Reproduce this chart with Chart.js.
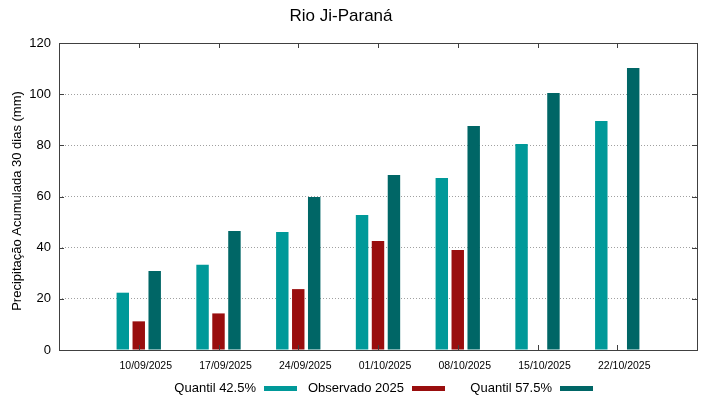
<!DOCTYPE html>
<html>
<head>
<meta charset="utf-8">
<script src="https://cdn.jsdelivr.net/npm/chart.js@4.4.1/dist/chart.umd.min.js"></script>
<style>
  html, body { margin: 0; padding: 0; background: #fff; }
  #wrap { width: 719px; height: 399px; }
</style>
</head>
<body>
<div id="wrap"><canvas id="rioChart" width="719" height="399"></canvas></div>
<script>
  // Dados
  const chartTitle = 'Rio Ji-Paraná';
  const yTitle = 'Precipitação Acumulada 30 dias (mm)';
  const dates = ['10/09/2025', '17/09/2025', '24/09/2025', '01/10/2025', '08/10/2025', '15/10/2025', '22/10/2025'];
  const quantil425 = [22.4, 33.3, 46.1, 52.8, 67.2, 80.5, 89.5];
  const observado2025 = [11.2, 14.3, 23.8, 42.6, 39.1, null, null];
  const quantil575 = [30.9, 46.5, 59.8, 68.4, 87.6, 100.5, 110.2];
  const yTicks = [0, 20, 40, 60, 80, 100, 120];

  const FONT = '"Liberation Sans", Arial, sans-serif';
  const BORDER = '#404040';

  // pad one empty slot on each side (gnuplot style xrange)
  const pad = arr => [null, ...arr, null];
  const labels = ['', ...dates, ''];

  // frame, inward ticks, titles and legend drawn gnuplot-style
  const gnuplotFrame = {
    id: 'gnuplotFrame',
    afterDraw(chart) {
      const { ctx, chartArea: a, scales } = chart;
      ctx.save();
      ctx.strokeStyle = BORDER;
      ctx.lineWidth = 1;
      ctx.strokeRect(Math.round(a.left) + 0.5, Math.round(a.top) + 0.5,
        Math.round(a.right - a.left), Math.round(a.bottom - a.top));

      ctx.beginPath();
      dates.forEach((d, i) => {
        const x = Math.round(scales.x.getPixelForValue(i + 1)) + 0.5;
        ctx.moveTo(x, a.bottom); ctx.lineTo(x, a.bottom - 5);
        ctx.moveTo(x, a.top); ctx.lineTo(x, a.top + 5);
      });
      yTicks.forEach(v => {
        const y = Math.round(scales.y.getPixelForValue(v)) + 0.5;
        ctx.moveTo(a.left, y); ctx.lineTo(a.left + 5, y);
        ctx.moveTo(a.right, y); ctx.lineTo(a.right - 5, y);
      });
      ctx.stroke();

      // title
      ctx.fillStyle = '#000';
      ctx.font = '17px ' + FONT;
      ctx.textAlign = 'center';
      ctx.textBaseline = 'middle';
      ctx.fillText(chartTitle, 341, 16);

      // y axis title
      ctx.save();
      ctx.translate(17, 201);
      ctx.rotate(-Math.PI / 2);
      ctx.font = '13px ' + FONT;
      ctx.fillText(yTitle, 0, 0);
      ctx.restore();

      // legend: text right aligned, sample after it
      ctx.font = '13px ' + FONT;
      ctx.textAlign = 'right';
      chart.data.datasets.forEach((ds, i) => {
        const xr = 256 + i * 148;
        ctx.fillStyle = '#000';
        ctx.fillText(ds.label, xr, 388);
        ctx.fillStyle = ds.backgroundColor;
        ctx.fillRect(xr + 8, 386, 33, 5);
      });
      ctx.restore();
    }
  };

  const ctx = document.getElementById('rioChart').getContext('2d');
  const chart = new Chart(ctx, {
    type: 'bar',
    data: {
      labels,
      datasets: [
        { label: 'Quantil 42.5%', data: pad(quantil425), backgroundColor: '#009999' },
        { label: 'Observado 2025', data: pad(observado2025), backgroundColor: '#990e0e' },
        { label: 'Quantil 57.5%', data: pad(quantil575), backgroundColor: '#006666' },
      ],
    },
    options: {
      responsive: false,
      animation: false,
      categoryPercentage: 0.6,
      barPercentage: 0.78,
      layout: { padding: { top: 43, right: 22, left: 0, bottom: 0 } },
      scales: {
        x: {
          offset: false,
          grid: { display: false, drawTicks: false },
          border: { display: false },
          ticks: {
            autoSkip: false, maxRotation: 0, padding: 10, labelOffset: 7,
            color: '#000', font: { family: FONT, size: 10.5 },
          },
          afterFit: s => { s.height = 49; },
        },
        y: {
          min: 0, max: 120,
          afterBuildTicks: s => { s.ticks = yTicks.map(v => ({ value: v })); },
          grid: {
            color: ctx => (ctx.tick && (ctx.tick.value === 0 || ctx.tick.value === 120)) ? 'rgba(0,0,0,0)' : '#a0a0a0',
            drawTicks: false,
          },
          border: { display: false, dash: [1, 2] },
          ticks: { padding: 8, color: '#000', font: { family: FONT, size: 13 } },
          afterFit: s => { s.width = 59; },
        },
      },
      plugins: {
        legend: { display: false },
        title: { display: false },
        tooltip: { enabled: false },
      },
    },
    plugins: [gnuplotFrame],
  });
</script>
</body>
</html>
